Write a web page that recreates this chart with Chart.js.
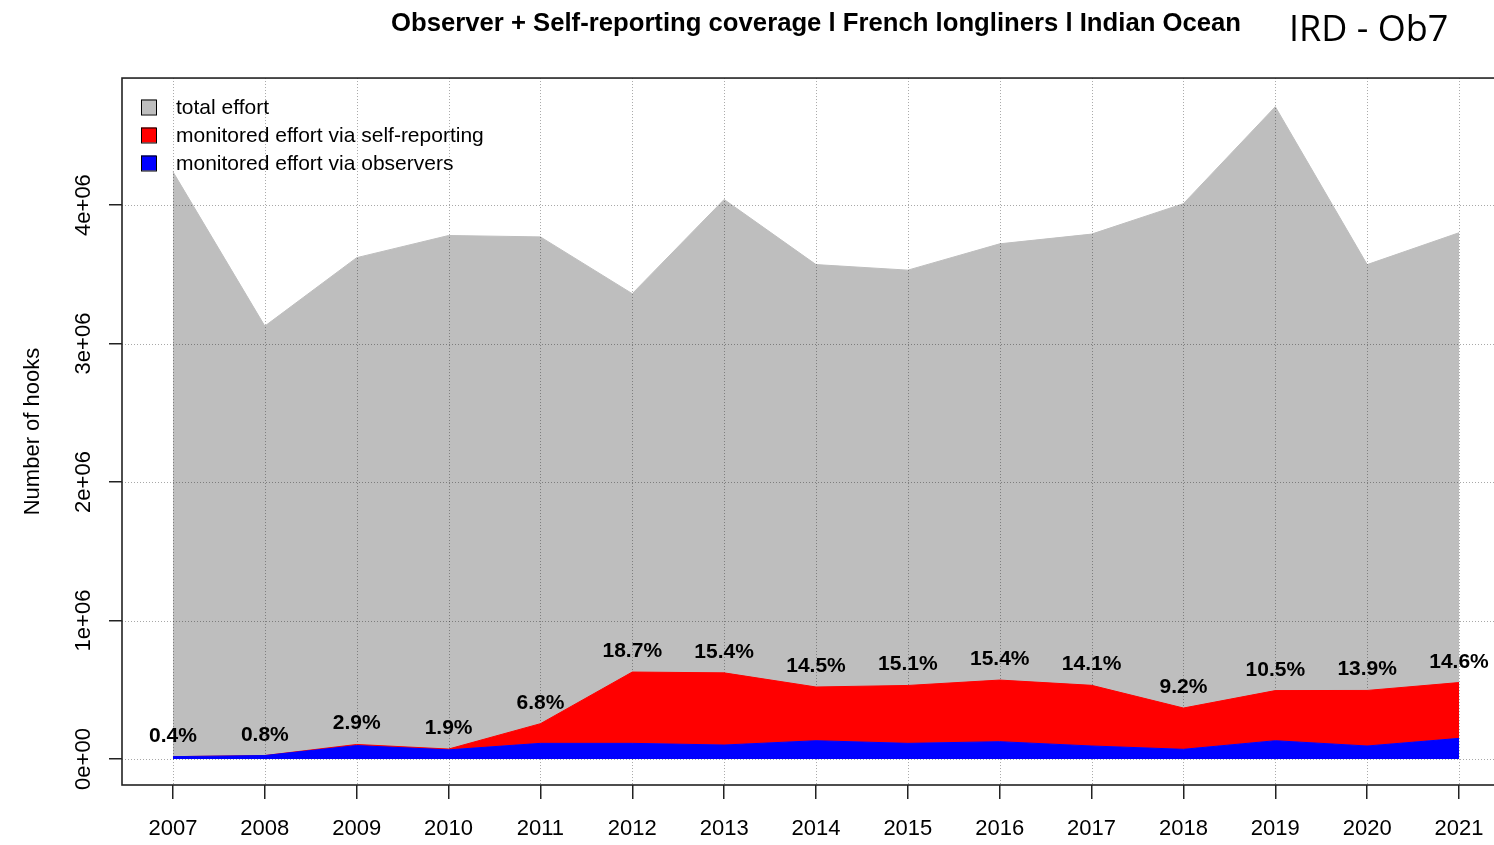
<!DOCTYPE html>
<html>
<head>
<meta charset="utf-8">
<script src="https://cdn.jsdelivr.net/npm/chart.js@4.4.1/dist/chart.umd.min.js"></script>
<style>
  html, body { margin: 0; padding: 0; background: #fff; overflow: hidden; }
  canvas { display: block; }
</style>
</head>
<body>
<canvas id="c" width="1520" height="845"></canvas>
<script>
// ---- data ----
const years = [2007, 2008, 2009, 2010, 2011, 2012, 2013, 2014, 2015, 2016, 2017, 2018, 2019, 2020, 2021];
const totalEffort = [4240000, 3126000, 3620000, 3780000, 3770000, 3360000, 4040000, 3570000, 3530000, 3720000, 3790000, 4010000, 4710000, 3570000, 3800000];
const observerEffort = [17000, 25000, 97000, 66000, 113000, 113000, 101000, 132000, 113000, 125000, 94000, 70000, 132000, 94000, 149000];
const selfReportingEffort = [0, 0, 8000, 6000, 142000, 515000, 521000, 388000, 418000, 445000, 438000, 298000, 362000, 401000, 403000];
const coverageLabels = ['0.4%', '0.8%', '2.9%', '1.9%', '6.8%', '18.7%', '15.4%', '14.5%', '15.1%', '15.4%', '14.1%', '9.2%', '10.5%', '13.9%', '14.6%'];
const yTickValues = [0, 1000000, 2000000, 3000000, 4000000];
const yTickLabels = ['0e+00', '1e+06', '2e+06', '3e+06', '4e+06'];
const seriesNames = ['total effort', 'monitored effort via self-reporting', 'monitored effort via observers'];
const chartTitle = 'Observer + Self-reporting coverage l French longliners l Indian Ocean';
const watermark = 'IRD - Ob7';
const yAxisTitle = 'Number of hooks';

const GREY = '#BEBEBE', RED = '#FF0000', BLUE = '#0000FF';
const FONT = "'Liberation Sans', Arial, sans-serif";

const overlay = {
  id: 'overlay',
  afterDatasetDraw(chart, args) {
    if (args.index !== 0) return; // grid drawn over the grey area only
    const { ctx, chartArea: a, scales: { x, y } } = chart;
    ctx.save();
    ctx.beginPath();
    ctx.rect(a.left, a.top, a.right - a.left, a.bottom - a.top);
    ctx.clip();
    ctx.strokeStyle = 'rgba(0,0,0,0.34)';
    ctx.lineWidth = 1;
    ctx.setLineDash([1, 2]);
    years.forEach(v => {
      const px = Math.round(x.getPixelForValue(v)) + 0.5;
      ctx.beginPath(); ctx.moveTo(px, a.top); ctx.lineTo(px, a.bottom); ctx.stroke();
    });
    yTickValues.forEach(v => {
      const py = Math.round(y.getPixelForValue(v)) + 0.5;
      ctx.beginPath(); ctx.moveTo(a.left, py); ctx.lineTo(a.right, py); ctx.stroke();
    });
    ctx.restore();
  },
  afterDraw(chart) {
    const { ctx, chartArea: a, scales: { x, y } } = chart;
    ctx.save();
    // plot box
    ctx.strokeStyle = '#222';
    ctx.lineWidth = 1.6;
    ctx.strokeRect(a.left, a.top, a.right - a.left, a.bottom - a.top);

    // rotated y tick labels
    ctx.fillStyle = '#000';
    ctx.font = '22px ' + FONT;
    ctx.textAlign = 'center';
    ctx.textBaseline = 'middle';
    yTickValues.forEach((v, i) => {
      const py = y.getPixelForValue(v);
      ctx.save();
      ctx.translate(84, py);
      ctx.rotate(-Math.PI / 2);
      ctx.fillText(yTickLabels[i], 0, 0);
      ctx.restore();
    });

    // coverage labels
    ctx.font = 'bold 21px ' + FONT;
    years.forEach((yr, i) => {
      const top = observerEffort[i] + selfReportingEffort[i];
      ctx.fillText(coverageLabels[i], x.getPixelForValue(yr), y.getPixelForValue(top + 150000));
    });

    // legend
    const colors = [GREY, RED, BLUE];
    ctx.font = '21px ' + FONT;
    ctx.textAlign = 'left';
    seriesNames.forEach((name, i) => {
      const cy = 107 + i * 28;
      ctx.fillStyle = colors[i];
      ctx.fillRect(141, cy - 7.5, 15, 15);
      ctx.strokeStyle = '#000';
      ctx.lineWidth = 1;
      ctx.strokeRect(141.5, cy - 7, 15, 15);
      ctx.fillStyle = '#000';
      ctx.fillText(name, 176, cy + 1);
    });

    // watermark
    ctx.font = "36px 'Open Sans', 'Noto Sans', sans-serif";
    ctx.textAlign = 'left';
    ctx.textBaseline = 'alphabetic';
    ctx.fillText(watermark, 1289, 41);
    ctx.restore();
  }
};

new Chart(document.getElementById('c'), {
  type: 'line',
  data: {
    labels: years,
    datasets: [
      { label: seriesNames[0], data: totalEffort, stack: 'total', order: 3,
        fill: 'origin', backgroundColor: GREY, borderColor: GREY, borderWidth: 1, pointRadius: 0, tension: 0 },
      { label: seriesNames[2], data: observerEffort, stack: 'monitored', order: 1,
        fill: 'origin', backgroundColor: BLUE, borderColor: BLUE, borderWidth: 1, pointRadius: 0, tension: 0 },
      { label: seriesNames[1], data: selfReportingEffort, stack: 'monitored', order: 2,
        fill: '-1', backgroundColor: RED, borderColor: RED, borderWidth: 1, pointRadius: 0, tension: 0 }
    ]
  },
  options: {
    responsive: false,
    animation: false,
    layout: { padding: { top: 0, right: 10, left: 0, bottom: 0 } },
    plugins: {
      legend: { display: false },
      tooltip: { enabled: false },
      title: {
        display: true, text: chartTitle, fullSize: false, align: 'center', color: '#000',
        font: { family: FONT, size: 25.7, weight: 'bold' }, padding: { top: 8, bottom: 39.2 }
      }
    },
    scales: {
      x: {
        type: 'linear', min: 2006.445, max: 2021.555,
        afterBuildTicks: s => { s.ticks = years.map(v => ({ value: v })); },
        afterFit: s => { s.height = 60; },
        border: { display: false },
        grid: { drawOnChartArea: false, drawTicks: true, tickLength: 14, color: '#222', lineWidth: 1.5 },
        ticks: { color: '#000', font: { family: FONT, size: 22 }, padding: 17, maxRotation: 0, autoSkip: false,
                 callback: v => String(v) }
      },
      y: {
        stacked: true, min: -187700, max: 4917000,
        afterBuildTicks: s => { s.ticks = yTickValues.map(v => ({ value: v })); },
        afterFit: s => { s.width = 122; },
        border: { display: false },
        grid: { drawOnChartArea: false, drawTicks: true, tickLength: 13, color: '#222', lineWidth: 1.5 },
        ticks: { display: false },
        title: { display: true, text: yAxisTitle, color: '#000', font: { family: FONT, size: 22 }, padding: { top: 20, bottom: 0 } }
      }
    }
  },
  plugins: [overlay]
});
</script>
</body>
</html>
